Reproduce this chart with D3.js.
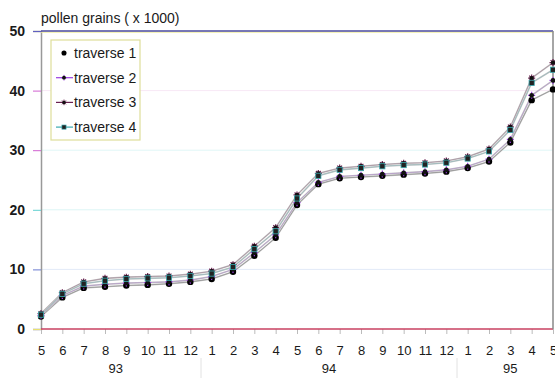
<!DOCTYPE html>
<html>
<head>
<meta charset="utf-8">
<script src="https://cdn.jsdelivr.net/npm/d3@7"></script>
<style>
  body { margin: 0; background: #fff; }
  text { font-family: "Liberation Sans", Arial, sans-serif; fill: #1a1a1a; }
</style>
</head>
<body>
<div id="container"></div>
<script>
// months along the x axis, May 93 .. May 95
const months = ["5","6","7","8","9","10","11","12","1","2","3","4","5","6","7","8","9","10","11","12","1","2","3","4","5"];
const years = [{label: "93", from: 0, to: 7}, {label: "94", from: 8, to: 19}, {label: "95", from: 20, to: 24}];
const yTicks = [0, 10, 20, 30, 40, 50];

// pollen grains (x 1000) per traverse
const traverse1 = [2.1, 5.3, 6.9, 7.1, 7.3, 7.4, 7.6, 7.9, 8.4, 9.6, 12.3, 15.3, 20.8, 24.3, 25.3, 25.5, 25.7, 25.9, 26.1, 26.4, 27.0, 28.1, 31.3, 38.4, 40.2];
const traverse2 = [2.3, 5.6, 7.2, 7.5, 7.7, 7.8, 7.9, 8.2, 8.8, 10.0, 12.8, 15.8, 21.2, 24.6, 25.6, 25.8, 26.0, 26.2, 26.4, 26.7, 27.3, 28.5, 31.8, 39.2, 41.7];
const traverse3 = [2.6, 6.1, 7.9, 8.5, 8.7, 8.8, 8.9, 9.2, 9.7, 10.8, 13.9, 17.0, 22.5, 26.1, 27.0, 27.3, 27.6, 27.8, 27.9, 28.2, 28.9, 30.2, 33.9, 42.1, 44.7];
const traverse4 = [2.4, 5.9, 7.6, 8.1, 8.4, 8.5, 8.6, 8.9, 9.3, 10.4, 13.4, 16.4, 21.9, 25.7, 26.7, 27.0, 27.3, 27.5, 27.6, 27.9, 28.6, 29.8, 33.4, 41.3, 43.5];

const series = [
  {name: "traverse 1", values: traverse1, color: "#222", marker: "dot"},
  {name: "traverse 2", values: traverse2, color: "#9a3de0", marker: "plus"},
  {name: "traverse 3", values: traverse3, color: "#6a2050", marker: "star"},
  {name: "traverse 4", values: traverse4, color: "#3aaab0", marker: "square"}
];

const W = 555, H = 378;
const plotLeft = 41, plotRight = 553, plotTop = 31, plotBottom = 329;

const svg = d3.select("#container")
  .append("svg")
    .attr("width", W)
    .attr("height", H);

const x = d3.scalePoint()
  .domain(d3.range(months.length))
  .range([plotLeft, plotRight]);

const y = d3.scaleLinear()
  .domain([0, 50])
  .range([plotBottom, plotTop]);

// faint grid lines
svg.append("g")
  .selectAll("line")
  .data([10, 20, 30, 40])
  .join("line")
    .attr("x1", plotLeft).attr("x2", plotRight)
    .attr("y1", d => y(d)).attr("y2", d => y(d))
    .attr("stroke", (d, i) => ["#e2eaf8", "#dcf6f6", "#e0f6f6", "#f8e8f6"][i])
    .attr("stroke-width", 1);

// y axis
const yAxis = svg.append("g")
  .attr("transform", `translate(${plotLeft},0)`)
  .call(d3.axisLeft(y).tickValues(yTicks).tickSize(8).tickPadding(8));
yAxis.select(".domain").attr("stroke", "#999").attr("stroke-width", 1.5);
yAxis.selectAll(".tick line").attr("stroke", (d, i) => ["#e8e070", "#6a7ad0", "#60d0d0", "#d060d0", "#d060d0", "#6060c0"][i]);
yAxis.selectAll("text")
  .style("font-size", "14px")
  .style("font-weight", "bold")
  .attr("fill", "#333");

// x axis
const xAxis = svg.append("g")
  .attr("transform", `translate(0,${plotBottom})`)
  .call(d3.axisBottom(x).tickFormat(i => months[i]).tickSize(5).tickPadding(12));
xAxis.select(".domain").remove();
xAxis.selectAll(".tick line").attr("stroke", "#bbb");
xAxis.selectAll("text")
  .style("font-size", "13px")
  .attr("fill", "#222");

// frame: top, bottom, right
svg.append("line").attr("x1", plotLeft).attr("x2", plotRight).attr("y1", plotTop + 1.2).attr("y2", plotTop + 1.2)
  .attr("stroke", "#f0ec9a").attr("stroke-width", 1);
svg.append("line").attr("x1", plotLeft).attr("x2", plotRight).attr("y1", plotTop).attr("y2", plotTop)
  .attr("stroke", "#4a4aa0").attr("stroke-width", 1.5);
svg.append("line").attr("x1", plotLeft).attr("x2", plotRight).attr("y1", plotBottom).attr("y2", plotBottom)
  .attr("stroke", "#c84060").attr("stroke-width", 1.5);
svg.append("line").attr("x1", plotRight).attr("x2", plotRight).attr("y1", plotTop).attr("y2", plotBottom)
  .attr("stroke", "#888").attr("stroke-width", 1.5);

// year labels and separators
svg.append("g")
  .selectAll("text")
  .data(years)
  .join("text")
    .attr("x", d => (x(d.from) + x(d.to)) / 2)
    .attr("y", 373)
    .attr("text-anchor", "middle")
    .style("font-size", "13px")
    .text(d => d.label);
svg.append("g")
  .selectAll("line")
  .data(years.slice(1))
  .join("line")
    .attr("x1", d => (x(d.from) + x(d.from - 1)) / 2)
    .attr("x2", d => (x(d.from) + x(d.from - 1)) / 2)
    .attr("y1", 358).attr("y2", 378)
    .attr("stroke", "#e2e2e2");

// y title
svg.append("text")
  .attr("x", plotLeft)
  .attr("y", 23)
  .style("font-size", "14px")
  .text("pollen grains ( x 1000)");

const line = d3.line()
  .x((d, i) => x(i))
  .y(d => y(d));

function drawMarker(g, type, color) {
  if (type === "dot") {
    g.append("circle").attr("r", 3.2).attr("fill", "#000");
  } else if (type === "plus") {
    g.append("path").attr("d", "M-3.5,0H3.5M0,-3.5V3.5").attr("stroke", color).attr("stroke-width", 1.2);
    g.append("circle").attr("r", 2.4).attr("fill", "#111");
  } else if (type === "star") {
    g.append("path").attr("d", "M-3.5,0H3.5M0,-3.5V3.5M-2.4,-2.4L2.4,2.4M-2.4,2.4L2.4,-2.4").attr("stroke", color).attr("stroke-width", 1.2);
    g.append("circle").attr("r", 2.2).attr("fill", "#111");
  } else {
    g.append("rect").attr("x", -2.6).attr("y", -2.6).attr("width", 5.2).attr("height", 5.2)
      .attr("fill", "#222").attr("stroke", color).attr("stroke-width", 0.8);
  }
}

// lines
series.forEach(s => {
  svg.append("path")
    .datum(s.values)
    .attr("d", line)
    .attr("fill", "none")
    .attr("stroke", "#c4c4c4")
    .attr("stroke-width", 1.6);
  svg.append("path")
    .datum(s.values)
    .attr("d", line)
    .attr("fill", "none")
    .attr("stroke", s.color)
    .attr("stroke-opacity", 0.35)
    .attr("stroke-width", 0.7);
});

// markers
series.forEach(s => {
  svg.append("g")
    .selectAll("g")
    .data(s.values)
    .join("g")
      .attr("transform", (d, i) => `translate(${x(i)},${y(d)})`)
      .each(function() { drawMarker(d3.select(this), s.marker, s.color); });
});

// legend
const legend = svg.append("g").attr("transform", "translate(51,40)");
legend.append("rect")
  .attr("width", 89).attr("height", 100)
  .attr("fill", "#fff")
  .attr("stroke", "#dede9a").attr("stroke-width", 1.2);
series.forEach((s, i) => {
  const row = legend.append("g").attr("transform", `translate(0,${13 + i * 24.7})`);
  if (s.marker !== "dot") {
    row.append("line").attr("x1", 5).attr("x2", 22).attr("stroke", s.color).attr("stroke-width", 1.2);
  }
  const m = row.append("g").attr("transform", "translate(13,0) scale(0.8)");
  drawMarker(m, s.marker, s.color);
  row.append("text")
    .attr("x", 23)
    .attr("y", 5)
    .style("font-size", "14px")
    .text(s.name);
});
</script>
</body>
</html>
